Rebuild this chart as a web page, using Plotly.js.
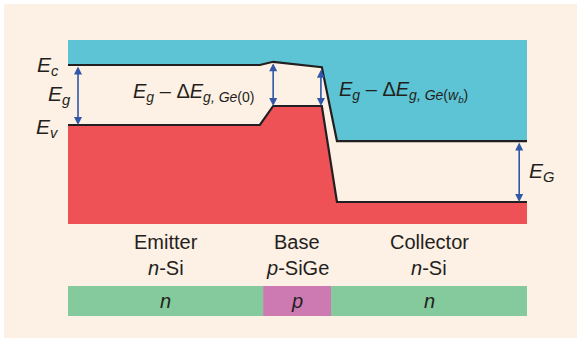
<!DOCTYPE html>
<html><head><meta charset="utf-8">
<script src="https://cdn.plot.ly/plotly-3.0.1.min.js"></script>
<style>html,body{margin:0;padding:0;background:#fff}</style>
</head><body><div id="chart" style="width:577px;height:338px"></div>
<script>
// Band diagram data: position along device (a.u., 0..100) and energy (eV, Ev emitter = 0)
const position = [0, 41.8, 44.7, 55.3, 58.6, 100];
const conductionBand = [1.12, 1.12, 1.18, 1.08, -0.30, -0.30];
const valenceBand = [0, 0, 0.355, 0.355, -1.437, -1.437];
const bandTop = 1.587;
const bandBottom = -1.848;
const regions = ['Emitter', 'Base', 'Collector'];
const materials = ['<i>n</i>-Si', '<i>p</i>-SiGe', '<i>n</i>-Si'];
const doping = ['n', 'p', 'n'];
const regionStart = [0, 42.5, 57.3];
const regionEnd = [42.5, 57.3, 100];

const CYAN = '#5CC4D4', RED = '#EE5257', GREEN = '#84CA9D', PINK = '#CD7AB3';
const BLUE = '#3057A8', INK = '#231F20', BG = '#FDF0E4';
const FONT = 'Liberation Sans, Arial, Helvetica, sans-serif';

const last = position[position.length - 1], first = position[0];
const traces = [
  {x: position.concat([last, first]), y: conductionBand.concat([bandTop, bandTop]),
   fill: 'toself', fillcolor: CYAN, line: {width: 0}, mode: 'lines', hoverinfo: 'skip'},
  {x: position.concat([last, first]), y: valenceBand.concat([bandBottom, bandBottom]),
   fill: 'toself', fillcolor: RED, line: {width: 0}, mode: 'lines', hoverinfo: 'skip'},
  {x: position, y: conductionBand, mode: 'lines', line: {color: INK, width: 2.2}, hoverinfo: 'skip'},
  {x: position, y: valenceBand, mode: 'lines', line: {color: INK, width: 2.2}, hoverinfo: 'skip'}
];

const barY0 = -3.565, barY1 = -3.005;
const regionColors = [GREEN, PINK, GREEN];
const shapes = [
  {type: 'rect', xref: 'paper', yref: 'paper', x0: 0, x1: 1, y0: 0.988, y1: 1, fillcolor: '#fff', line: {width: 0}, layer: 'below'},
  {type: 'rect', xref: 'paper', yref: 'paper', x0: 0, x1: 0.007, y0: 0, y1: 1, fillcolor: '#fff', line: {width: 0}, layer: 'below'}
];
regions.forEach((r, i) => shapes.push({type: 'rect', xref: 'x', yref: 'y',
  x0: regionStart[i], x1: regionEnd[i], y0: barY0, y1: barY1, fillcolor: regionColors[i], line: {width: 0}}));

const ann = [];
function txt(text, x, y, xa, size, extra) {
  ann.push(Object.assign({text: text, x: x, y: y, xref: 'x', yref: 'y', showarrow: false,
    xanchor: xa, yanchor: 'middle', font: {family: FONT, size: size, color: INK}}, extra || {}));
}
function arrow(x, y0, y1) {
  ann.push({text: '', x: x, y: y1, ax: x, ay: y0, xref: 'x', yref: 'y', axref: 'x', ayref: 'y',
    showarrow: true, arrowside: 'end+start', arrowhead: 2, startarrowhead: 2, arrowsize: 1, startarrowsize: 1,
    arrowwidth: 1.6, arrowcolor: BLUE, standoff: 0, startstandoff: 0});
}
// band gap arrows
arrow(2.18, conductionBand[0], valenceBand[0]);
arrow(position[2], conductionBand[2], valenceBand[2]);
arrow(position[3] - 0.2, conductionBand[3] - 0.02, valenceBand[3]);
arrow(98.3, conductionBand[5], valenceBand[5]);

txt('<i>E<sub>c</sub></i>', -1.5, 1.10, 'right', 21);
txt('<i>E<sub>g</sub></i>', 1.1, 0.56, 'right', 21);
txt('<i>E<sub>v</sub></i>', -1.5, -0.06, 'right', 21);
txt('<i>E<sub>g</sub></i> – Δ<i>E<sub>g, Ge</sub></i><sub>(0)</sub>', 13.7, 0.60, 'left', 20);
txt('<i>E<sub>g</sub></i> – Δ<i>E<sub>g, Ge</sub></i><sub>(<i>w<sub>b</sub></i>)</sub>', 58.6, 0.63, 'left', 20);
txt('<i>E<sub>G</sub></i>', 100, -0.87, 'left', 21);

const centers = regions.map((r, i) => (regionStart[i] + regionEnd[i]) / 2);
regions.forEach((r, i) => {
  txt(r, centers[i], -2.184, 'center', 20);
  txt(materials[i], centers[i], -2.669, 'center', 20);
  txt('<i>' + doping[i] + '</i>', centers[i], -3.285, 'center', 20);
});

const layout = {
  width: 577, height: 338, margin: {l: 0, r: 0, t: 0, b: 0},
  paper_bgcolor: BG, plot_bgcolor: 'rgba(0,0,0,0)', showlegend: false,
  xaxis: {range: [-68 / 4.59, (577 - 68) / 4.59], visible: false, fixedrange: true},
  yaxis: {range: [(125 - 338) / 53.57, 125 / 53.57], visible: false, fixedrange: true},
  shapes: shapes, annotations: ann
};
Plotly.newPlot('chart', traces, layout, {displayModeBar: false, staticPlot: true});
</script></body></html>
